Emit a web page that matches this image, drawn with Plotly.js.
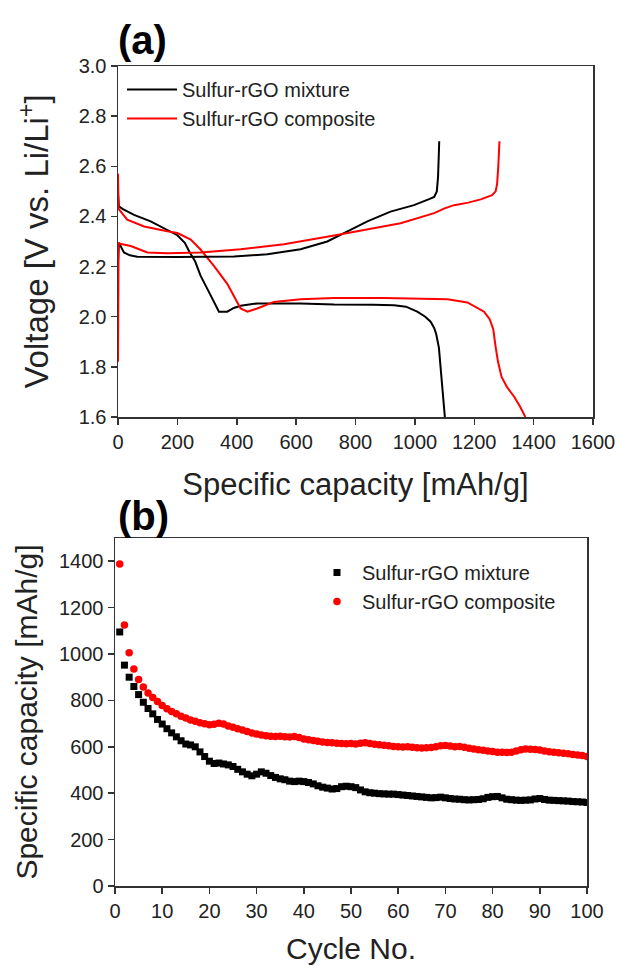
<!DOCTYPE html>
<html>
<head>
<meta charset="utf-8">
<script src="https://cdn.plot.ly/plotly-3.0.1.min.js"></script>
<style>html,body{margin:0;padding:0;background:#fff;}#chart{width:618px;height:965px;}</style>
</head>
<body>
<div id="chart"></div>
<script>
// ---------- Panel (a): voltage profiles ----------
const mixDisCap = [0,3,15,54,110,166,200,225,240,260,278,310,340,368,390,413,469,615,728,860,930,970,1008,1035,1053,1065,1072,1081,1090,1101];
const mixDisV   = [2.49,2.44,2.43,2.406,2.38,2.347,2.325,2.295,2.26,2.22,2.164,2.09,2.02,2.02,2.035,2.044,2.053,2.053,2.049,2.048,2.046,2.04,2.02,2.0,1.98,1.955,1.93,1.876,1.75,1.6];
const mixChgCap = [0,3,20,40,65,200,391,503,615,705,773,840,918,997,1050,1065,1074,1078,1081,1082];
const mixChgV   = [2.22,2.295,2.256,2.245,2.239,2.238,2.24,2.249,2.269,2.30,2.34,2.38,2.419,2.445,2.47,2.478,2.50,2.557,2.66,2.70];
const compDisCap = [0,2,31,88,166,200,245,278,323,368,413,436,469,525,615,728,896,1110,1177,1233,1252,1264,1272,1280,1292,1310,1335,1355,1372];
const compDisV   = [2.57,2.43,2.387,2.36,2.341,2.334,2.308,2.268,2.203,2.131,2.033,2.02,2.033,2.059,2.07,2.075,2.075,2.07,2.057,2.02,1.99,1.95,1.88,1.82,1.76,1.72,1.68,1.64,1.6];
const compChgCap = [0,1,2,43,99,166,278,413,559,728,840,952,1065,1100,1132,1180,1222,1260,1272,1277,1281,1283,1285];
const compChgV   = [1.82,2.10,2.292,2.282,2.256,2.253,2.256,2.269,2.289,2.324,2.347,2.373,2.413,2.432,2.445,2.455,2.468,2.485,2.50,2.53,2.60,2.66,2.70];

// ---------- Panel (b): cycling ----------
const mixCycleCap = [1095,952,900,860,825,792,765,742,718,698,678,660,643,626,612,608,600,578,558,538,
  528,530,526,522,515,503,492,482,475,482,492,486,476,468,462,458,452,450,452,450,
  446,440,432,426,422,418,420,428,430,428,424,414,406,402,400,398,397,396,396,394,
  392,390,388,386,384,382,380,381,383,380,377,375,374,372,371,372,373,376,382,385,
  386,380,374,372,370,369,370,371,375,377,373,370,369,368,367,366,364,363,362,360];
const compCycleCap = [1388,1125,1005,935,890,858,832,812,795,778,764,752,742,732,724,716,710,704,699,695,
  697,702,698,690,684,678,672,666,660,655,651,648,645,644,645,643,642,644,640,634,
  630,627,624,621,619,617,615,614,613,614,612,615,617,614,611,609,607,604,601,600,
  599,600,598,596,595,596,597,600,604,606,603,600,601,598,594,590,587,585,582,580,
  577,576,575,577,582,587,590,589,588,586,582,579,576,574,572,570,567,565,562,558];
const cycles = mixCycleCap.map((_, i) => i + 1);

const seriesNames = ['Sulfur-rGO mixture', 'Sulfur-rGO composite'];
const seriesColors = ['#000000', '#ff0000'];

const FONT = 'Arial, "Liberation Sans", sans-serif';

const traces = [
  {x: mixDisCap, y: mixDisV, type: 'scatter', mode: 'lines', name: seriesNames[0],
   line: {color: seriesColors[0], width: 2}, xaxis: 'x', yaxis: 'y', legend: 'legend', legendgroup: 'a0'},
  {x: compDisCap, y: compDisV, type: 'scatter', mode: 'lines', name: seriesNames[1],
   line: {color: seriesColors[1], width: 2}, xaxis: 'x', yaxis: 'y', legend: 'legend', legendgroup: 'a1'},
  {x: mixChgCap, y: mixChgV, type: 'scatter', mode: 'lines', name: seriesNames[0], showlegend: false,
   line: {color: seriesColors[0], width: 2}, xaxis: 'x', yaxis: 'y', legendgroup: 'a0'},
  {x: compChgCap, y: compChgV, type: 'scatter', mode: 'lines', name: seriesNames[1], showlegend: false,
   line: {color: seriesColors[1], width: 2}, xaxis: 'x', yaxis: 'y', legendgroup: 'a1'},
  {x: cycles, y: mixCycleCap, type: 'scatter', mode: 'markers', name: seriesNames[0],
   marker: {color: seriesColors[0], symbol: 'square', size: 7}, xaxis: 'x2', yaxis: 'y2', legend: 'legend2'},
  {x: cycles, y: compCycleCap, type: 'scatter', mode: 'markers', name: seriesNames[1],
   marker: {color: seriesColors[1], symbol: 'circle', size: 7.5}, xaxis: 'x2', yaxis: 'y2', legend: 'legend2'}
];

const axisCommon = {
  showline: true, mirror: true, linecolor: '#333', linewidth: 1.5,
  ticks: 'outside', ticklen: 6, tickwidth: 1.5, tickcolor: '#333',
  showgrid: false, zeroline: false, automargin: false,
  tickfont: {family: FONT, size: 20, color: '#222'}
};
const titleFont = {family: FONT, size: 30, color: '#222'};

const layout = {
  width: 618, height: 965,
  margin: {l: 0, r: 0, t: 0, b: 0},
  paper_bgcolor: '#fff', plot_bgcolor: '#fff',
  font: {family: FONT, color: '#222'},
  xaxis: Object.assign({}, axisCommon, {
    domain: [118/618, 593/618], range: [0, 1600], tickvals: [0,200,400,600,800,1000,1200,1400,1600],
    anchor: 'y', title: {text: 'Specific capacity [mAh/g]', font: {family: FONT, size: 31, color: '#222'}, standoff: 22}
  }),
  yaxis: Object.assign({}, axisCommon, {
    domain: [(965-417)/965, (965-66)/965], range: [1.6, 3.0], tickvals: [1.6,1.8,2.0,2.2,2.4,2.6,2.8,3.0],
    tickformat: '.1f', anchor: 'x', title: {text: 'Voltage [V vs. Li/Li<sup>+</sup>]', font: {family: FONT, size: 33, color: '#222'}, standoff: 20}
  }),
  xaxis2: Object.assign({}, axisCommon, {
    domain: [115/618, 587/618], range: [0, 100], tickvals: [0,10,20,30,40,50,60,70,80,90,100],
    anchor: 'y2', title: {text: 'Cycle No.', font: titleFont, standoff: 20}
  }),
  yaxis2: Object.assign({}, axisCommon, {
    domain: [(965-886)/965, (965-538)/965], range: [0, 1500], tickvals: [0,200,400,600,800,1000,1200,1400],
    anchor: 'x2', title: {text: 'Specific capacity [mAh/g]', font: titleFont, standoff: 12}
  }),
  legend: {x: 122/618, y: (965-70)/965, xanchor: 'left', yanchor: 'top', bgcolor: 'rgba(0,0,0,0)',
    font: {family: FONT, size: 20, color: '#222'}, tracegroupgap: 0, itemwidth: 50},
  legend2: {x: 312/618, y: (965-553)/965, xanchor: 'left', yanchor: 'top', bgcolor: 'rgba(0,0,0,0)',
    font: {family: FONT, size: 20, color: '#222'}, itemwidth: 40},
  annotations: [
    {text: '<b>(a)</b>', xref: 'paper', yref: 'paper', x: 116/618, y: (965-40)/965, xanchor: 'left', yanchor: 'middle',
     showarrow: false, font: {family: FONT, size: 40, color: '#000'}},
    {text: '<b>(b)</b>', xref: 'paper', yref: 'paper', x: 116/618, y: (965-516)/965, xanchor: 'left', yanchor: 'middle',
     showarrow: false, font: {family: FONT, size: 40, color: '#000'}}
  ],
  showlegend: true
};

Plotly.newPlot('chart', traces, layout, {staticPlot: true, displayModeBar: false});
</script>
</body>
</html>
